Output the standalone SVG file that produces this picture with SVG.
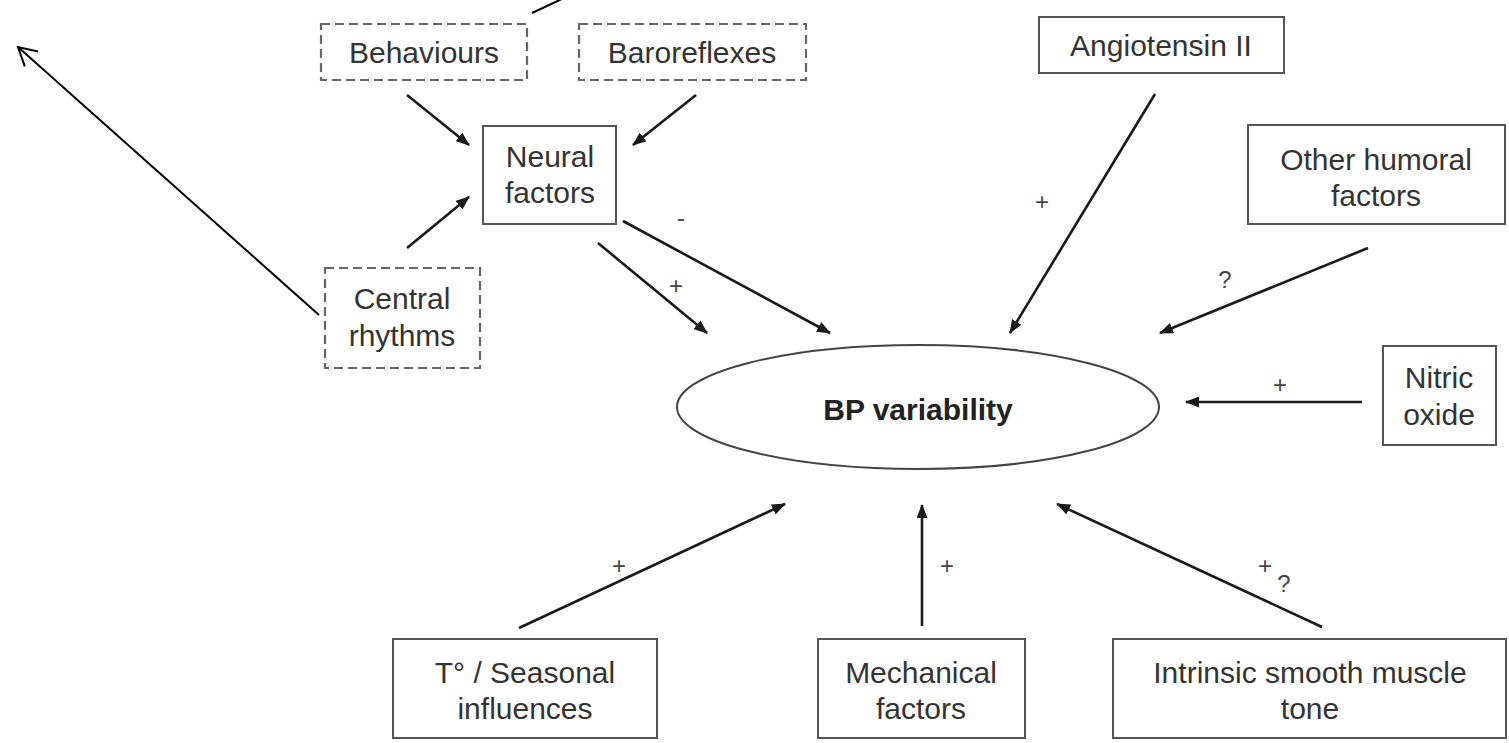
<svg xmlns="http://www.w3.org/2000/svg" width="1509" height="743" viewBox="0 0 1509 743">
<defs>
<style>
.box{fill:#fff;stroke:#555;stroke-width:2}
.dash{fill:#fff;stroke:#666;stroke-width:2.2;stroke-dasharray:9 5}
.t{font-family:"Liberation Sans",Arial,sans-serif;font-size:30px;fill:#333;text-anchor:middle}
.b{font-family:"Liberation Sans",Arial,sans-serif;font-size:30px;font-weight:bold;fill:#222;text-anchor:middle}
.lbl{font-family:"Liberation Sans",Arial,sans-serif;font-size:24px;fill:#444;text-anchor:middle}
.arr{stroke:#1a1a1a;stroke-width:2.6;fill:none;marker-end:url(#ah)}
.thin{stroke:#000;stroke-width:2;fill:none}
</style>
<marker id="ah" markerUnits="userSpaceOnUse" markerWidth="14" markerHeight="11" refX="13" refY="5.5" orient="auto" viewBox="0 0 14 11">
<path d="M0,0 L14,5.5 L0,11 z" fill="#1a1a1a"/>
</marker>
<marker id="open" markerUnits="userSpaceOnUse" markerWidth="24" markerHeight="24" refX="20" refY="12" orient="auto" viewBox="0 0 24 24">
<path d="M2,2 L20,12 L2,22" fill="none" stroke="#000" stroke-width="2"/>
</marker>
</defs>
<rect width="1509" height="743" fill="#fff"/>

<g id="connectors">
<line class="thin" x1="532" y1="13" x2="564" y2="-2"/>
<line class="thin" x1="319" y1="315" x2="18" y2="47" marker-end="url(#open)"/>
<line class="arr" x1="407" y1="95" x2="469" y2="145"/>
<line class="arr" x1="696" y1="95" x2="633" y2="145"/>
<line class="arr" x1="407" y1="248" x2="469" y2="197"/>
<line class="arr" x1="623" y1="221" x2="830" y2="333"/>
<line class="arr" x1="598" y1="243" x2="707" y2="333"/>
<line class="arr" x1="1155" y1="94" x2="1010" y2="333"/>
<line class="arr" x1="1368" y1="248" x2="1160" y2="333"/>
<line class="arr" x1="1362" y1="402" x2="1186" y2="402"/>
<line class="arr" x1="519" y1="628" x2="785" y2="504"/>
<line class="arr" x1="922" y1="626" x2="922" y2="505"/>
<line class="arr" x1="1322" y1="627" x2="1057" y2="504"/>
<text class="lbl" x="681" y="226">-</text>
<text class="lbl" x="676" y="294">+</text>
<text class="lbl" x="1042" y="210">+</text>
<text class="lbl" x="1225" y="288">?</text>
<text class="lbl" x="1280" y="393">+</text>
<text class="lbl" x="619" y="574">+</text>
<text class="lbl" x="947" y="574">+</text>
<text class="lbl" x="1265" y="574">+</text>
<text class="lbl" x="1284" y="592">?</text>
</g>

<g id="behaviours">
<rect class="dash" x="321" y="24" width="206" height="56"/>
<text class="t" x="424" y="63">Behaviours</text>
</g>
<g id="baroreflexes">
<rect class="dash" x="579" y="24" width="227" height="56"/>
<text class="t" x="692" y="63">Baroreflexes</text>
</g>
<g id="angiotensin">
<rect class="box" x="1039" y="17" width="245" height="56"/>
<text class="t" x="1161" y="56">Angiotensin II</text>
</g>
<g id="neural">
<rect class="box" x="483" y="126" width="133" height="98"/>
<text class="t" x="550" y="167">Neural</text>
<text class="t" x="550" y="203">factors</text>
</g>
<g id="other-humoral">
<rect class="box" x="1248" y="125" width="257" height="99"/>
<text class="t" x="1376" y="170">Other humoral</text>
<text class="t" x="1376" y="206">factors</text>
</g>
<g id="central">
<rect class="dash" x="325" y="268" width="155" height="100"/>
<text class="t" x="402" y="309">Central</text>
<text class="t" x="402" y="346">rhythms</text>
</g>
<g id="bp">
<ellipse cx="918" cy="407" rx="241" ry="62" fill="#fff" stroke="#444" stroke-width="2"/>
<text class="b" x="918" y="420">BP variability</text>
</g>
<g id="nitric">
<rect class="box" x="1383" y="346" width="113" height="99"/>
<text class="t" x="1439" y="388">Nitric</text>
<text class="t" x="1439" y="425">oxide</text>
</g>
<g id="seasonal">
<rect class="box" x="393" y="639" width="264" height="99"/>
<text class="t" x="525" y="683">T° / Seasonal</text>
<text class="t" x="525" y="719">influences</text>
</g>
<g id="mechanical">
<rect class="box" x="818" y="639" width="207" height="99"/>
<text class="t" x="921" y="683">Mechanical</text>
<text class="t" x="921" y="719">factors</text>
</g>
<g id="intrinsic">
<rect class="box" x="1113" y="639" width="393" height="99"/>
<text class="t" x="1310" y="683">Intrinsic smooth muscle</text>
<text class="t" x="1310" y="719">tone</text>
</g>
</svg>
